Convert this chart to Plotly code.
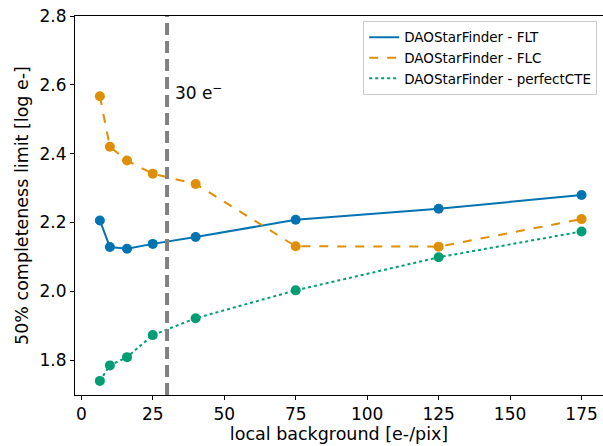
import plotly.graph_objects as go

# local background levels [e-/pix]
background = [6.5, 10, 16, 25, 40, 75, 125, 175]

# 50% completeness limits [log e-]
flt = [2.206, 2.129, 2.124, 2.138, 2.158, 2.208, 2.240, 2.280]
flc = [2.567, 2.420, 2.380, 2.342, 2.312, 2.131, 2.130, 2.210]
perfect_cte = [1.740, 1.785, 1.809, 1.873, 1.922, 2.003, 2.099, 2.174]

threshold = 30
series_names = ["DAOStarFinder - FLT", "DAOStarFinder - FLC", "DAOStarFinder - perfectCTE"]

BLUE = "#0173b2"
ORANGE = "#de8f05"
GREEN = "#029e73"
FONT = "DejaVu Sans"

fig = go.Figure()

styles = [(flt, BLUE, "solid"), (flc, ORANGE, "dash"), (perfect_cte, GREEN, "dot")]
for name, (vals, color, dash) in zip(series_names, styles):
    fig.add_trace(go.Scatter(
        x=background, y=vals, name=name, mode="lines+markers",
        line=dict(color=color, width=2, dash=dash),
        marker=dict(color=color, size=10),
        showlegend=False, legendgroup=name,
    ))
# line-only legend entries
for name, (vals, color, dash) in zip(series_names, styles):
    fig.add_trace(go.Scatter(
        x=[None], y=[None], name=name, mode="lines",
        line=dict(color=color, width=2, dash=dash),
        legendgroup=name,
    ))

# vertical marker at the 30 e- background level
fig.add_shape(type="line", xref="x", yref="paper", x0=threshold, x1=threshold,
              y0=0, y1=1, line=dict(color="#808080", width=4, dash="12px,6px"))
fig.add_annotation(x=threshold + 2.0, y=2.58, xref="x", yref="y",
                   text="30 e<sup>−</sup>", showarrow=False, xanchor="left",
                   font=dict(family=FONT, size=17, color="black"))

axis_common = dict(
    showline=True, linecolor="black", linewidth=1, mirror=True,
    ticks="outside", ticklen=4, tickcolor="black", showgrid=False, zeroline=False,
    tickfont=dict(family=FONT, size=17, color="black"),
    title_font=dict(family=FONT, size=17.5, color="black"),
)

fig.update_xaxes(range=[-2.2, 182.5], tickvals=[0, 25, 50, 75, 100, 125, 150, 175],
                 title_text="local background [e-/pix]", title_standoff=4, **axis_common)
fig.update_yaxes(range=[1.699, 2.8], tickvals=[1.8, 2.0, 2.2, 2.4, 2.6, 2.8],
                 tickformat=".1f", title_text="50% completeness limit [log e-]",
                 title_standoff=6, **axis_common)

fig.update_layout(
    width=603, height=446,
    margin=dict(l=75, r=0, t=16, b=51),
    plot_bgcolor="white", paper_bgcolor="white",
    font=dict(family=FONT, color="black"),
    legend=dict(x=0.989, y=0.987, xanchor="right", yanchor="top",
                bgcolor="white", bordercolor="#cccccc", borderwidth=1,
                font=dict(family=FONT, size=13.5, color="black"),
                tracegroupgap=0),
    showlegend=True,
)

fig.write_html("out.html")
